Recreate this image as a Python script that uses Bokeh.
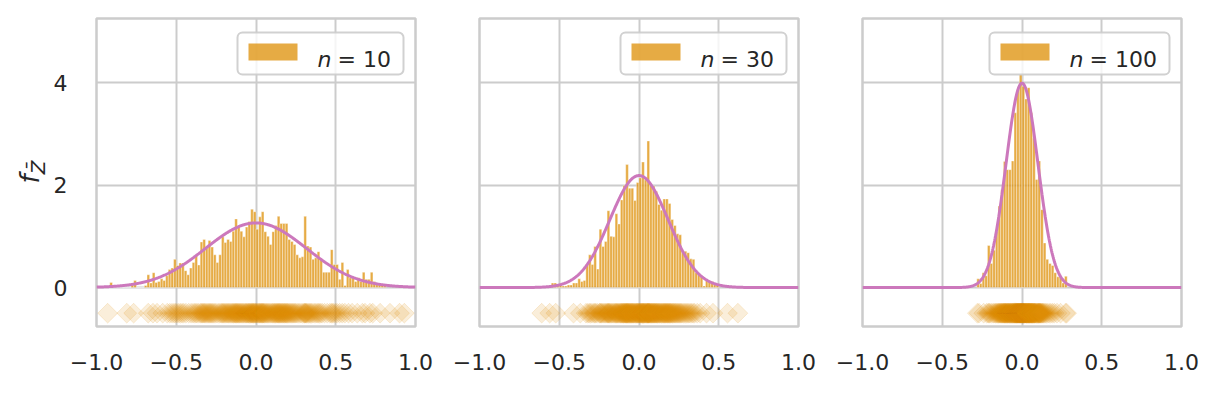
import numpy as np
from bokeh.plotting import figure
from bokeh.layouts import row
from bokeh.models import Range1d, FixedTicker, BoxAnnotation, Label, ColumnDataSource, Div
from bokeh.embed import file_html
from bokeh.resources import INLINE

# ---------------- data ----------------
sample_sizes = [10, 30, 100]
n_strip = 200                  # sample means shown as diamonds in each strip
bin_width = 1 / 60             # histogram bin edges at -1 + k/60

first_bin_n10 = 5
heights_n10 = [0.10, 0, 0, 0, 0, 0, 0, 0, 0.05, 0.14, 0, 0, 0, 0.04, 0.25, 0.09, 0.29, 0.10,
               0.12, 0.17, 0.14, 0.23, 0.35, 0.38, 0.55, 0.43, 0.48, 0.48, 0.33, 0.25, 0.38,
               0.49, 0.63, 0.44, 0.89, 0.94, 0.77, 0.92, 0.79, 0.64, 0.49, 0.64, 0.99, 0.88,
               0.94, 0.90, 1.10, 1.34, 1.20, 1.10, 0.99, 1.18, 1.29, 1.53, 1.48, 1.14, 1.38,
               1.48, 1.09, 1.00, 0.84, 1.09, 1.21, 1.39, 1.25, 1.25, 1.25, 0.94, 0.90, 0.84,
               0.64, 0.58, 0.60, 1.39, 0.81, 0.79, 0.55, 0.58, 0.70, 0.55, 0.30, 0.30, 0.30,
               0.74, 0.45, 0.45, 0.16, 0.49, 0.04, 0.35, 0.19, 0.19, 0.12, 0.19, 0.12, 0.30,
               0.16, 0.16, 0.30, 0.12, 0.09, 0.09, 0.06, 0.06]

first_bin_n30 = 27
heights_n30 = [0.09, 0.09, 0.04, 0.04, 0.03, 0.03, 0.05, 0.05, 0.09, 0.09, 0.17, 0.12, 0.14,
               0.45, 0.64, 0.45, 0.80, 0.36, 1.14, 0.80, 0.90, 1.50, 1.00, 0.99, 1.44, 1.24,
               1.71, 1.99, 2.40, 1.94, 1.94, 1.70, 2.05, 2.14, 2.45, 2.10, 2.86, 2.00, 1.98,
               1.88, 1.62, 1.51, 1.73, 1.73, 1.64, 1.33, 1.21, 1.05, 1.03, 0.71, 0.71, 0.68,
               0.56, 0.55, 0.29, 0.27, 0.22, 0.03, 0.14, 0.12, 0.12, 0.09, 0.04]

first_bin_n100 = 43
heights_n100 = [0.17, 0.08, 0.29, 0.23, 0.82, 0.47, 0.73, 1.10, 1.59, 1.91, 2.46, 2.30, 2.30,
                2.47, 3.41, 3.86, 4.16, 3.93, 3.68, 3.90, 3.41, 2.92, 2.11, 2.47, 1.52, 0.87,
                0.55, 0.47, 0.43, 0.29, 0.21, 0.22, 0.09, 0.22]

# strip points read at the outer ends of each strip
extra_means_n10 = [-0.93, -0.81, 0.84, 0.90, 0.93]
extra_means_n30 = [-0.61, -0.56, 0.555, 0.62]
extra_means_n100 = [-0.28, 0.28]

strip_level = -0.5
x_ticks = [-1, -0.5, 0, 0.5, 1]
x_tick_labels = ["\u22121.0", "\u22120.5", "0.0", "0.5", "1.0"]
y_ticks = [0, 2, 4]
y_tick_labels = ["0", "2", "4"]

# ---------------- style / geometry ----------------
X0, X1 = -1.0, 1.0
Y0, Y1 = -0.76, 5.25
FRAME_W, FRAME_H = 319, 308
PXX = FRAME_W / (X1 - X0)
PXY = FRAME_H / (Y1 - Y0)
BAR = "#DE8F05"
CURVE = "#CC78BC"
GRID = "#cccccc"
TEXT = "#262626"
FONT = "DejaVu Sans"
TOP_BORDER = 18
BOTTOM_BORDER = 50
LABEL_W = 50

panels = [
    (sample_sizes[0], first_bin_n10, heights_n10, extra_means_n10),
    (sample_sizes[1], first_bin_n30, heights_n30, extra_means_n30),
    (sample_sizes[2], first_bin_n100, heights_n100, extra_means_n100),
]

y_range = Range1d(Y0, Y1)
figs = []
for idx, (n, k0, heights, extras) in enumerate(panels):
    first = idx == 0
    last = idx == len(panels) - 1
    p = figure(frame_width=FRAME_W, frame_height=FRAME_H,
               x_range=Range1d(X0, X1), y_range=y_range,
               output_backend="svg", toolbar_location=None,
               min_border_left=(96 - LABEL_W) if first else 32,
               min_border_right=25 if last else 32,
               min_border_top=TOP_BORDER, min_border_bottom=BOTTOM_BORDER,
               background_fill_color="white", border_fill_color="white")
    p.outline_line_color = GRID
    p.outline_line_width = 2.5

    # axes
    p.xaxis.ticker = FixedTicker(ticks=x_ticks)
    p.xaxis.major_label_overrides = {float(t): s for t, s in zip(x_ticks, x_tick_labels)}
    p.yaxis.ticker = FixedTicker(ticks=y_ticks)
    p.yaxis.major_label_overrides = {float(t): s for t, s in zip(y_ticks, y_tick_labels)}
    for ax in (p.xaxis[0], p.yaxis[0]):
        ax.axis_line_color = None
        ax.major_tick_line_color = None
        ax.minor_tick_line_color = None
        ax.major_label_text_font = FONT
        ax.major_label_text_font_size = "22px"
        ax.major_label_text_color = TEXT
    p.xaxis.major_label_standoff = 21
    p.yaxis.major_label_standoff = 23
    p.yaxis.major_label_orientation = "horizontal"
    if not first:
        p.yaxis.visible = False
    p.xgrid.grid_line_color = GRID
    p.ygrid.grid_line_color = GRID
    p.xgrid.grid_line_width = 2
    p.ygrid.grid_line_width = 2

    # histogram
    h = np.array(heights, dtype=float)
    left = X0 + (k0 + np.arange(len(h))) * bin_width
    edges = np.append(left, left[-1] + bin_width)
    src = ColumnDataSource(dict(left=left, right=left + bin_width, top=h, bottom=np.zeros_like(h)))
    p.quad(left="left", right="right", top="top", bottom="bottom", source=src,
           fill_color=BAR, fill_alpha=0.75, line_color="white", line_width=0.5, line_alpha=0.75)

    # strip of sample means: quantiles of the histogram plus the read-off end points
    cdf = np.concatenate([[0.0], np.cumsum(h)])
    cdf = cdf / cdf[-1]
    m = n_strip - len(extras)
    q = (np.arange(m) + 0.5) / m
    xs = np.concatenate([np.interp(q, cdf, edges), np.array(extras, dtype=float)])
    p.scatter(x=xs, y=np.full(len(xs), strip_level), marker="square", angle=np.pi / 4,
              size=14, fill_color=BAR, fill_alpha=0.15, line_color=BAR, line_alpha=0.15,
              line_width=1)

    # theoretical density of the mean
    sigma = 1 / np.sqrt(n)
    xx = np.linspace(X0, X1, 600)
    yy = np.exp(-0.5 * (xx / sigma) ** 2) / (sigma * np.sqrt(2 * np.pi))
    p.line(xx, yy, line_color=CURVE, line_width=3)

    # legend (box, patch, "n = ..")
    label_rest = "= %d" % n
    extra_w = 14 * (len(str(n)) - 2)
    bx_l = X1 - (178 + extra_w) / PXX
    bx_r = X1 - 12 / PXX
    bx_t = Y1 - 14 / PXY
    bx_b = Y1 - 56 / PXY
    p.add_layout(BoxAnnotation(left=bx_l, right=bx_r, top=bx_t, bottom=bx_b,
                               fill_color="white", fill_alpha=0.8,
                               line_color="#cccccc", line_alpha=0.9, line_width=2,
                               border_radius=5, level="overlay"))
    p.add_layout(BoxAnnotation(left=bx_l + 11 / PXX, right=bx_l + 60 / PXX,
                               top=Y1 - 25 / PXY, bottom=Y1 - 42 / PXY,
                               fill_color=BAR, fill_alpha=0.75, line_color=None,
                               level="overlay"))
    p.add_layout(Label(x=bx_l + 80 / PXX, y=Y1 - 41 / PXY, text="n",
                       text_font=FONT, text_font_size="22px", text_font_style="italic",
                       text_color=TEXT, text_align="left", text_baseline="alphabetic",
                       level="overlay"))
    p.add_layout(Label(x=bx_l + 100 / PXX, y=Y1 - 41 / PXY, text=label_rest,
                       text_font=FONT, text_font_size="22px",
                       text_color=TEXT, text_align="left", text_baseline="alphabetic",
                       level="overlay"))
    figs.append(p)

# y-axis label: f with subscript Z-bar, rotated
total_h = TOP_BORDER + FRAME_H + BOTTOM_BORDER
center_y = TOP_BORDER + FRAME_H / 2
ylabel = Div(width=LABEL_W, height=total_h, margin=0, text=(
    '<div style="position:relative;width:%dpx;height:%dpx;">'
    '<div style="position:absolute;left:32px;top:%dpx;transform:translate(-50%%,-50%%) rotate(-90deg);'
    'white-space:nowrap;font-family:\'DejaVu Sans\';font-size:26px;color:%s;line-height:1;">'
    '<i>f</i><sub style="font-size:20px;vertical-align:-6px;"><i>Z\u0304</i></sub></div></div>'
) % (LABEL_W, total_h, int(center_y), TEXT))

layout = row(ylabel, *figs)
open("out.html", "w").write(file_html(layout, INLINE))
